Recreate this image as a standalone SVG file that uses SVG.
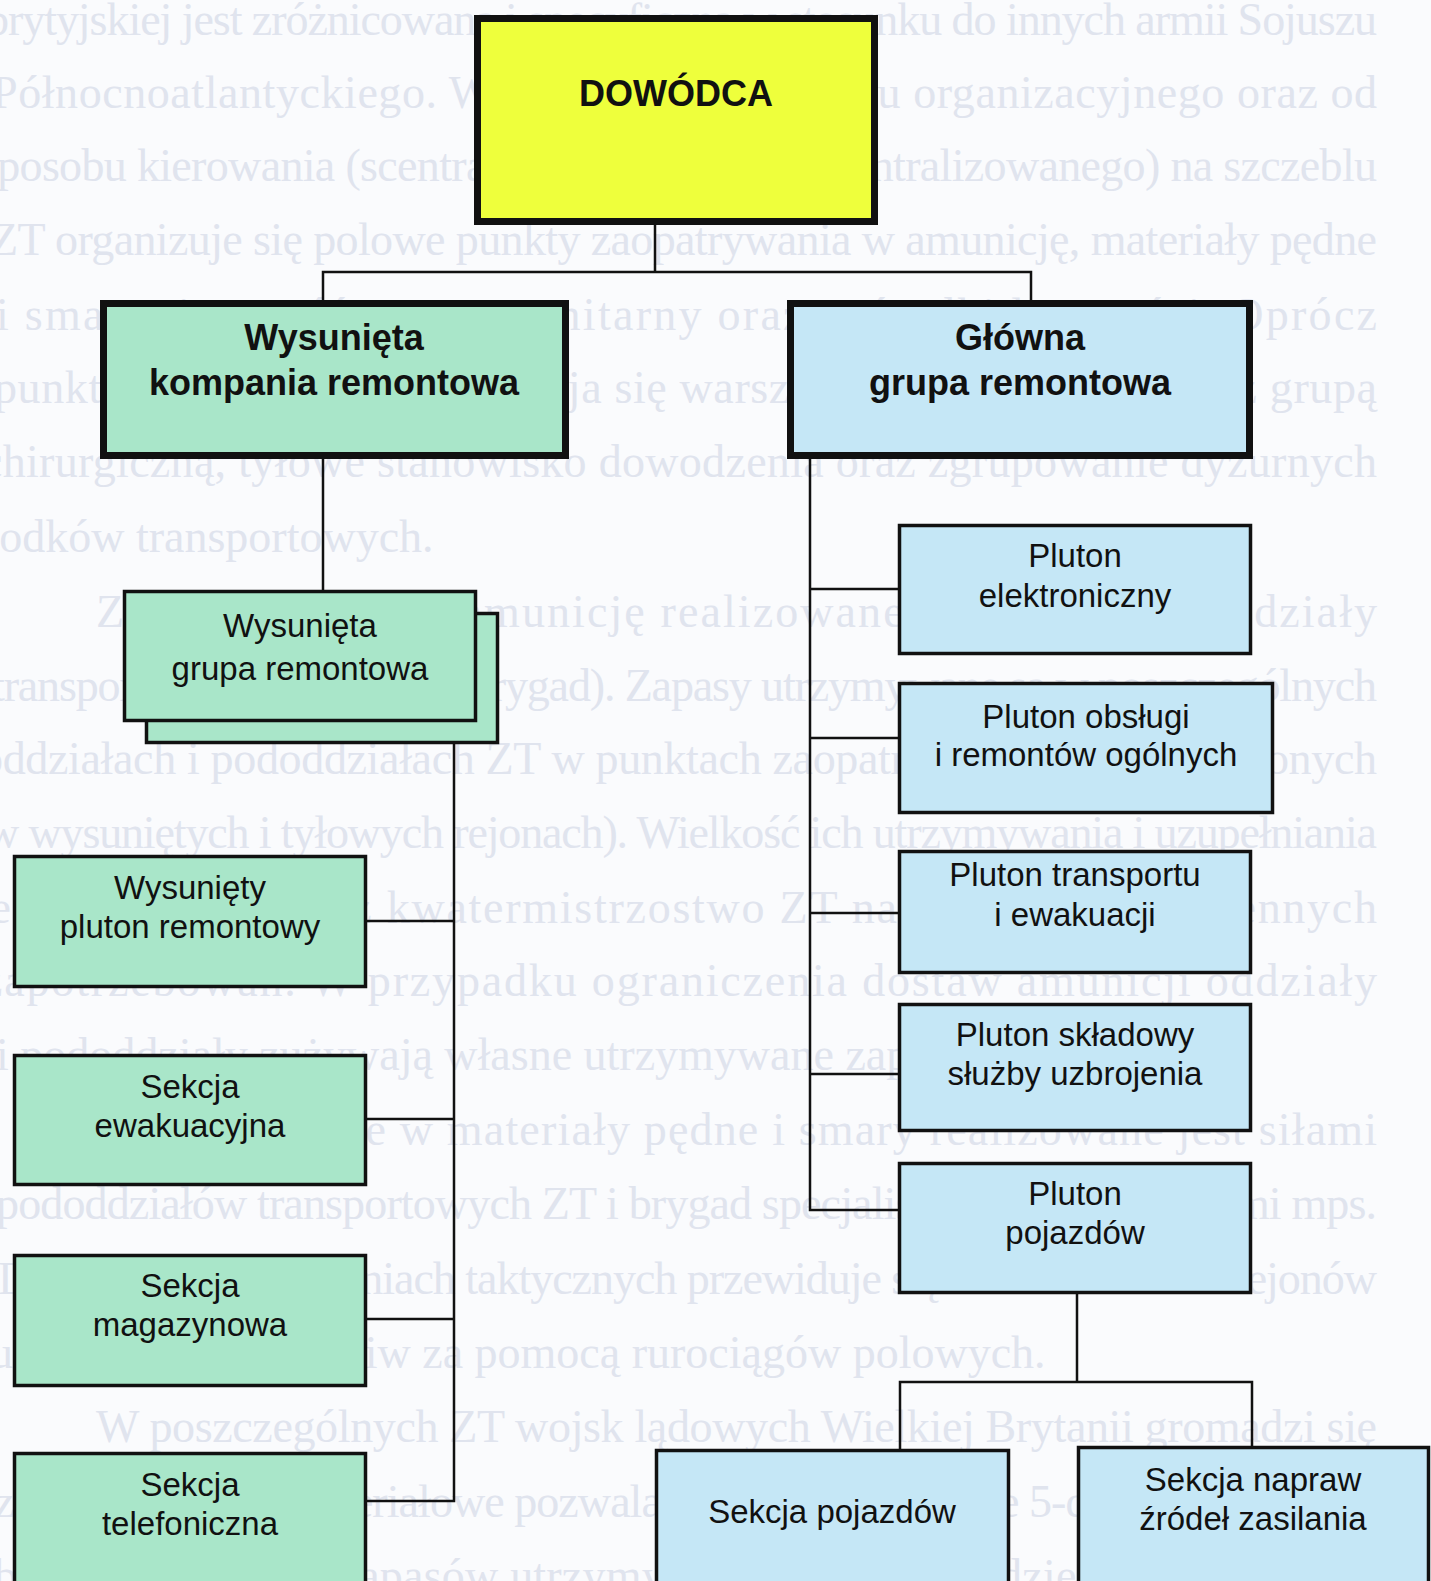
<svg xmlns="http://www.w3.org/2000/svg" width="1431" height="1581" viewBox="0 0 1431 1581">
  <style>
    .page { fill: #fafbfd; }
    .bg { font-family: "Liberation Serif", "Times New Roman", serif; font-size: 46px; fill: #e0e4ee; }
    .thick { stroke: #111; stroke-width: 7; }
    .thin { stroke: #111; stroke-width: 3.5; }
    .yellow { fill: #eeff3c; }
    .green { fill: #a9e6c9; }
    .blue { fill: #c5e7f6; }
    .lbl { font-family: "Liberation Sans", Arial, sans-serif; font-size: 33px; fill: #111; text-anchor: middle; }
    .lblb { font-family: "Liberation Sans", Arial, sans-serif; font-size: 36px; font-weight: bold; fill: #111; text-anchor: middle; }
    .conn { stroke: #111; stroke-width: 2.5; fill: none; stroke-linecap: square; }
  </style>

  <rect class="page" x="0" y="0" width="1431" height="1581"/>

  <!-- printed body text of the page behind the chart -->
  <g id="page-text" class="bg">
    <text x="-14" y="35" textLength="1391" lengthAdjust="spacing">brytyjskiej jest zróżnicowana i specyficzna w stosunku do innych armii Sojuszu</text>
    <text x="-8" y="108" textLength="1385" lengthAdjust="spacing">Północnoatlantyckiego. W zależności od układu organizacyjnego oraz od</text>
    <text x="-20" y="181" textLength="1397" lengthAdjust="spacing">sposobu kierowania (scentralizowanego lub zdecentralizowanego) na szczeblu</text>
    <text x="-10" y="255" textLength="1387" lengthAdjust="spacing">ZT organizuje się polowe punkty zaopatrywania w amunicję, materiały pędne</text>
    <text x="-4" y="330" textLength="1381" lengthAdjust="spacing">i smary, żywność, sprzęt sanitarny oraz w środki łączności. Oprócz</text>
    <text x="-6" y="403" textLength="1383" lengthAdjust="spacing">punktów zaopatrywania rozwija się warsztaty naprawcze, szpital z grupą</text>
    <text x="-18" y="477" textLength="1395" lengthAdjust="spacing">chirurgiczną, tyłowe stanowisko dowodzenia oraz zgrupowanie dyżurnych</text>
    <text x="-34" y="552">środków transportowych.</text>
    <text x="96" y="627" textLength="1281" lengthAdjust="spacing">Zaopatrywanie w amunicję realizowane jest przez pododdziały</text>
    <text x="-8" y="701" textLength="1385" lengthAdjust="spacing">transportowe ZT (dywizji i brygad). Zapasy utrzymywane są w poszczególnych</text>
    <text x="-20" y="774" textLength="1397" lengthAdjust="spacing">oddziałach i pododdziałach ZT w punktach zaopatrywania (rozmieszczonych</text>
    <text x="-14" y="848" textLength="1391" lengthAdjust="spacing">w wysuniętych i tyłowych rejonach). Wielkość ich utrzymywania i uzupełniania</text>
    <text x="-24" y="923" textLength="1401" lengthAdjust="spacing">jest określana przez kwatermistrzostwo ZT na podstawie codziennych</text>
    <text x="-18" y="996" textLength="1395" lengthAdjust="spacing">zapotrzebowań. W przypadku ograniczenia dostaw amunicji oddziały</text>
    <text x="-4" y="1070">i pododdziały zużywają własne utrzymywane zapasy.</text>
    <text x="96" y="1145" textLength="1281" lengthAdjust="spacing">Zaopatrywanie w materiały pędne i smary realizowane jest siłami</text>
    <text x="-4" y="1219" textLength="1381" lengthAdjust="spacing">pododdziałów transportowych ZT i brygad specjalistycznymi cysternami mps.</text>
    <text x="-2" y="1294" textLength="1379" lengthAdjust="spacing">Dodatkowo w działaniach taktycznych przewiduje się dostarczenie do rejonów</text>
    <text x="-10" y="1368">ugrupowania ZT paliw za pomocą rurociągów polowych.</text>
    <text x="96" y="1442" textLength="1281" lengthAdjust="spacing">W poszczególnych ZT wojsk lądowych Wielkiej Brytanii gromadzi się</text>
    <text x="-6" y="1517" textLength="1383" lengthAdjust="spacing">zapasy bojowe i materiałowe pozwalające na prowadzenie 5-dniowych działań</text>
    <text x="-6" y="1591" textLength="1383" lengthAdjust="spacing">bojowych. Całość zapasów utrzymywanych jest w wydzielonych składach</text>
  </g>

  <!-- connectors -->
  <g id="connectors" class="conn">
    <path d="M655 225 V272 M323 272 H1031 M323 272 V300 M1031 272 V300"/>
    <path d="M323 459 V590"/>
    <path d="M454 744 V1501 M367 921 H454 M367 1119 H454 M367 1319 H454 M367 1501 H454"/>
    <path d="M810 459 V1210 M810 589 H898 M810 738 H898 M810 913 H898 M810 1074 H898 M810 1210 H898"/>
    <path d="M1077 1294 V1382 M900 1382 H1252 M900 1382 V1449 M1252 1382 V1446"/>
  </g>

  <g id="n-dowodca">
    <rect class="yellow thick" x="477.5" y="18.5" width="397" height="203"/>
    <text class="lblb" x="676" y="106">DOWÓDCA</text>
  </g>

  <g id="n-wysunieta-kompania">
    <rect class="green thick" x="103.5" y="303.5" width="462" height="152"/>
    <text class="lblb" x="334" y="350">Wysunięta</text>
    <text class="lblb" x="334" y="395">kompania remontowa</text>
  </g>

  <g id="n-glowna-grupa">
    <rect class="blue thick" x="790.5" y="303.5" width="459" height="152"/>
    <text class="lblb" x="1020" y="350">Główna</text>
    <text class="lblb" x="1020" y="395">grupa remontowa</text>
  </g>

  <g id="n-wysunieta-grupa">
    <rect class="green thin" x="146.5" y="613.5" width="351" height="129"/>
    <rect class="green thin" x="124.5" y="591.5" width="351" height="129"/>
    <text class="lbl" x="300" y="637">Wysunięta</text>
    <text class="lbl" x="300" y="680">grupa remontowa</text>
  </g>

  <g id="n-wysuniety-pluton">
    <rect class="green thin" x="14.5" y="856.5" width="351" height="130"/>
    <text class="lbl" x="190" y="899">Wysunięty</text>
    <text class="lbl" x="190" y="938">pluton remontowy</text>
  </g>

  <g id="n-sekcja-ewakuacyjna">
    <rect class="green thin" x="14.5" y="1055.5" width="351" height="129"/>
    <text class="lbl" x="190" y="1098">Sekcja</text>
    <text class="lbl" x="190" y="1137">ewakuacyjna</text>
  </g>

  <g id="n-sekcja-magazynowa">
    <rect class="green thin" x="14.5" y="1255.5" width="351" height="130"/>
    <text class="lbl" x="190" y="1297">Sekcja</text>
    <text class="lbl" x="190" y="1336">magazynowa</text>
  </g>

  <g id="n-sekcja-telefoniczna">
    <rect class="green thin" x="14.5" y="1453.5" width="351" height="160"/>
    <text class="lbl" x="190" y="1496">Sekcja</text>
    <text class="lbl" x="190" y="1535">telefoniczna</text>
  </g>

  <g id="n-pluton-elektroniczny">
    <rect class="blue thin" x="899.5" y="525.5" width="351" height="128"/>
    <text class="lbl" x="1075" y="567">Pluton</text>
    <text class="lbl" x="1075" y="607">elektroniczny</text>
  </g>

  <g id="n-pluton-obslugi">
    <rect class="blue thin" x="899.5" y="683.5" width="373" height="129"/>
    <text class="lbl" x="1086" y="728">Pluton obsługi</text>
    <text class="lbl" x="1086" y="766">i remontów ogólnych</text>
  </g>

  <g id="n-pluton-transportu">
    <rect class="blue thin" x="899.5" y="851.5" width="351" height="121"/>
    <text class="lbl" x="1075" y="886">Pluton transportu</text>
    <text class="lbl" x="1075" y="926">i ewakuacji</text>
  </g>

  <g id="n-pluton-skladowy">
    <rect class="blue thin" x="899.5" y="1004.5" width="351" height="126"/>
    <text class="lbl" x="1075" y="1046">Pluton składowy</text>
    <text class="lbl" x="1075" y="1085">służby uzbrojenia</text>
  </g>

  <g id="n-pluton-pojazdow">
    <rect class="blue thin" x="899.5" y="1163.5" width="351" height="129"/>
    <text class="lbl" x="1075" y="1205">Pluton</text>
    <text class="lbl" x="1075" y="1244">pojazdów</text>
  </g>

  <g id="n-sekcja-pojazdow">
    <rect class="blue thin" x="656.5" y="1450.5" width="352" height="160"/>
    <text class="lbl" x="832" y="1523">Sekcja pojazdów</text>
  </g>

  <g id="n-sekcja-napraw">
    <rect class="blue thin" x="1078.5" y="1447.5" width="350" height="160"/>
    <text class="lbl" x="1253" y="1491">Sekcja napraw</text>
    <text class="lbl" x="1253" y="1530">źródeł zasilania</text>
  </g>
</svg>
